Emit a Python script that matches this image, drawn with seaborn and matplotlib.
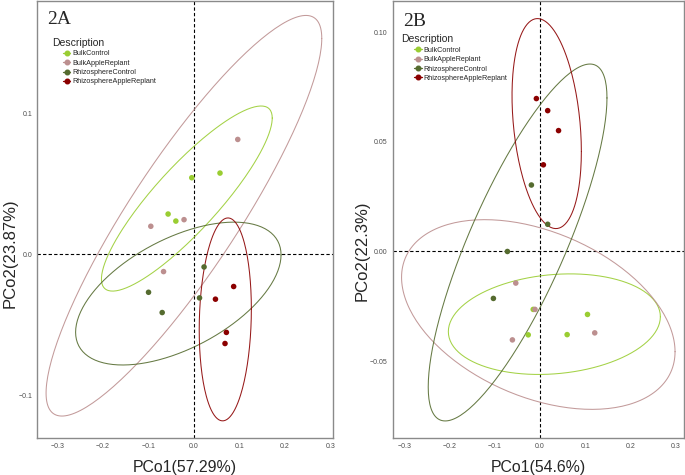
import numpy as np
import pandas as pd
import matplotlib
matplotlib.use('Agg')
import matplotlib.pyplot as plt
from matplotlib.lines import Line2D
import seaborn as sns

groups = ['BulkControl', 'BulkAppleReplant', 'RhizosphereControl', 'RhizosphereAppleReplant']
colors = ['#9acd32', '#bc8f8f', '#556b2f', '#8b0000']

# panel 2A, four samples per group
a_group = ['BulkControl'] * 4 + ['BulkAppleReplant'] * 4 + ['RhizosphereControl'] * 4 + ['RhizosphereAppleReplant'] * 4
a_pco1 = [0.057, -0.005, -0.057, -0.040,
          0.096, -0.022, -0.095, -0.067,
          0.022, -0.100, -0.070, 0.012,
          0.087, 0.047, 0.071, 0.068]
a_pco2 = [0.0577, 0.0544, 0.0286, 0.0236,
          0.0816, 0.0246, 0.0199, -0.0123,
          -0.0090, -0.0270, -0.0414, -0.0310,
          -0.0229, -0.0319, -0.0555, -0.0634]

# panel 2B
b_group = a_group
b_pco1 = [0.105, 0.060, -0.026, -0.015,
          -0.0535, -0.011, 0.121, -0.061,
          -0.019, 0.017, -0.072, -0.103,
          -0.008, 0.017, 0.041, 0.0075]
b_pco2 = [-0.0287, -0.0379, -0.0380, -0.0264,
          -0.0144, -0.0264, -0.0371, -0.0403,
          0.0303, 0.0124, 0.0000, -0.0214,
          0.0697, 0.0642, 0.0551, 0.0395]


def cov_trob(x, nu=5, maxit=25, tol=0.01):
    # port of MASS::cov.trob, as used by ggplot2 stat_ellipse
    n, p = x.shape
    wt = np.ones(n)
    loc = x.mean(axis=0)
    w = np.sqrt(wt)
    for _ in range(maxit):
        w0 = w
        X = x - loc
        _, d, vt = np.linalg.svd(np.sqrt(wt / wt.sum())[:, None] * X, full_matrices=False)
        wX = X @ vt.T @ np.diag(1 / d)
        Q = (wX ** 2).sum(axis=1)
        w = wt * (nu + p) / (nu + Q)
        loc = (w[:, None] * x).sum(axis=0) / w.sum()
        if np.all(np.abs(w - w0) < tol):
            break
    sx = np.sqrt(w)[:, None] * X
    return loc, sx.T @ sx / wt.sum()


def ellipse(x, level=0.95, segments=200):
    n = len(x)
    dfn, dfd = 2, n - 1
    fq = dfd / 2 * ((1 - level) ** (-2 / dfd) - 1)  # qf for dfn = 2
    radius = np.sqrt(dfn * fq)
    center, shape = cov_trob(x)
    L = np.linalg.cholesky(shape)
    t = np.linspace(0, 2 * np.pi, segments + 1)
    circle = np.column_stack([np.cos(t), np.sin(t)])
    return center + radius * circle @ L.T


def panel(ax, df, tag, xlab, ylab, xlim, ylim, yticks, yfmt, pos):
    palette = dict(zip(groups, colors))
    for g in groups:
        sub = df[df['Description'] == g][['PCo1', 'PCo2']].to_numpy()
        e = ellipse(sub)
        ax.plot(e[:, 0], e[:, 1], color=palette[g], lw=0.75, alpha=0.9, zorder=2)
    sns.scatterplot(data=df, x='PCo1', y='PCo2', hue='Description', palette=palette,
                    s=16, edgecolor='none', legend=False, ax=ax, zorder=3)
    ax.axhline(0, color='black', ls=(0, (3, 2)), lw=0.8, zorder=1)
    ax.axvline(0, color='black', ls=(0, (3, 2)), lw=0.8, zorder=1)
    ax.set_xlim(*xlim)
    ax.set_ylim(*ylim)
    ax.set_xticks([-0.3, -0.2, -0.1, 0.0, 0.1, 0.2, 0.3])
    ax.set_xticklabels([f'{v:.1f}'.replace('-', '\u2212') for v in ax.get_xticks()])
    ax.set_yticks(yticks)
    ax.set_yticklabels([yfmt.format(v).replace('-', '\u2212') for v in yticks])
    ax.tick_params(labelsize=5, colors='#4d4d4d', length=2, width=0.6, pad=1.5)
    ax.set_xlabel(xlab, fontsize=11.4, labelpad=7)
    ax.set_ylabel(ylab, fontsize=12.0)
    ax.yaxis.set_label_coords(pos['ylab'][0], pos['ylab'][1])
    for sp in ax.spines.values():
        sp.set_color('#8a8a8a')
        sp.set_linewidth(1.0)
    ax.grid(False)
    ax.text(pos['tag'][0], pos['tag'][1], tag, transform=ax.transAxes, ha='left', va='top',
            fontsize=14, family='Liberation Serif')
    ax.text(pos['title'][0], pos['title'][1], 'Description', transform=ax.transAxes,
            ha='left', va='center', fontsize=7.5)
    handles = [Line2D([], [], color=c, marker='o', markersize=3.3, lw=0.9) for c in colors]
    ax.legend(handles, groups, loc='upper left', bbox_to_anchor=pos['leg'],
              frameon=False, fontsize=5.2, handlelength=1.0, handletextpad=0.3,
              labelspacing=0.32, borderpad=0, borderaxespad=0)


sns.set_style('white')
plt.rcParams['font.family'] = ['Liberation Sans', 'DejaVu Sans']

df_a = pd.DataFrame({'Description': a_group, 'PCo1': a_pco1, 'PCo2': a_pco2})
df_b = pd.DataFrame({'Description': b_group, 'PCo1': b_pco1, 'PCo2': b_pco2})

fig = plt.figure(figsize=(6.85, 4.75), dpi=100)
ax_a = fig.add_axes([0.054, 0.078, 0.432, 0.92])
ax_b = fig.add_axes([0.573, 0.078, 0.426, 0.92])

panel(ax_a, df_a, '2A', 'PCo1(57.29%)', 'PCo2(23.87%)',
      (-0.345, 0.305), (-0.1305, 0.180), [-0.1, 0.0, 0.1], '{:.1f}',
      {'ylab': (-0.066, 0.423), 'tag': (0.033, 0.978), 'title': (0.051, 0.904),
       'leg': (0.088, 0.887)})
panel(ax_b, df_b, '2B', 'PCo1(54.6%)', 'PCo2(22.3%)',
      (-0.326, 0.319), (-0.085, 0.1142), [-0.05, 0.0, 0.05, 0.10], '{:.2f}',
      {'ylab': (-0.080, 0.428), 'tag': (0.036, 0.972), 'title': (0.030, 0.913),
       'leg': (0.075, 0.895)})

fig.savefig('out.png', dpi=100)
